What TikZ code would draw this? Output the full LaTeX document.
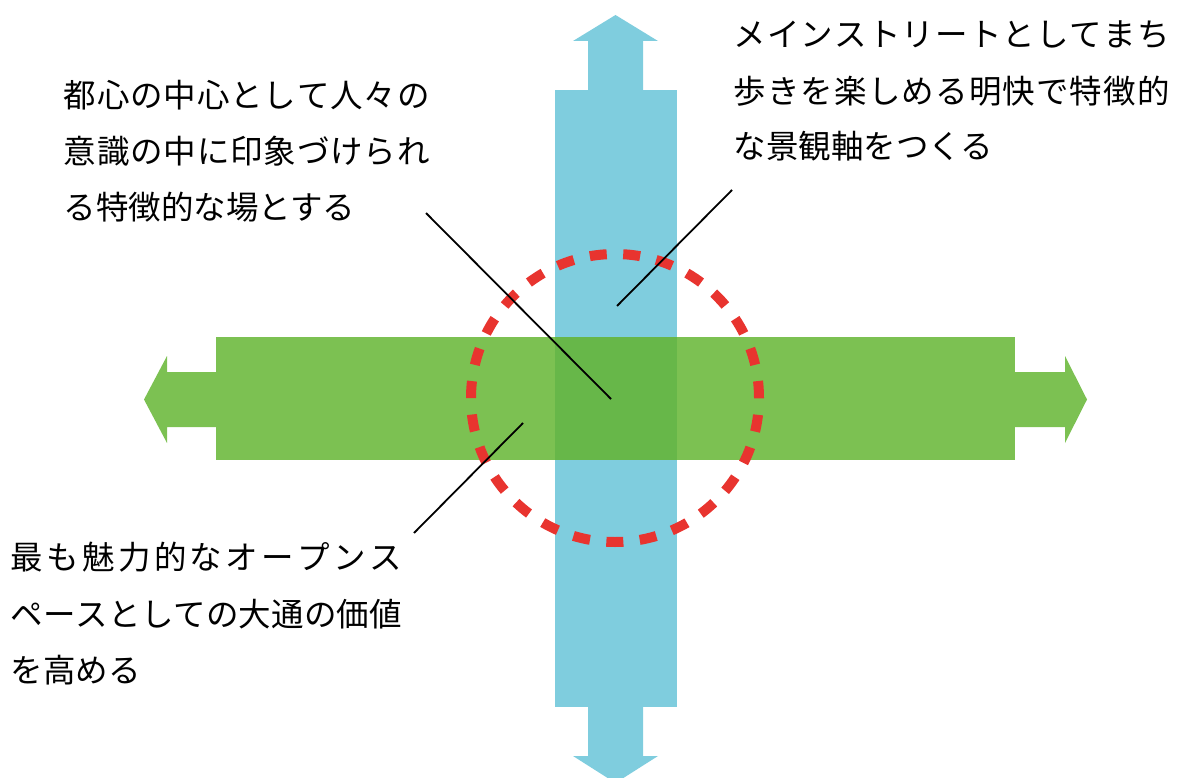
\documentclass[tikz,border=0pt]{standalone}
\usepackage{fontspec}
\newfontfamily\jp{Noto Sans CJK JP}
\definecolor{blueax}{HTML}{7FCDDE}
\definecolor{greenax}{HTML}{7CC152}
\definecolor{overlapax}{HTML}{67B749}
\definecolor{ringred}{HTML}{E8342F}
\makeatletter
\newcommand\jspread[2]{\hbox to #1{\@tfor\js@c:=#2\do{\js@c\hfil}\unskip}}
\makeatother
\begin{document}
\begin{tikzpicture}[x=1pt,y=-1pt,
  lbl/.style={anchor=base west, inner sep=0pt, font=\jp\fontsize{32.5}{32.5}\selectfont},
  leader/.style={draw=black, line width=1.8pt},
  ring/.style={draw=ringred, line width=10pt, dash pattern=on 17pt off 16.5pt}]
\useasboundingbox (0,0) rectangle (1180,778);
\begin{scope}
\clip (0,0) rectangle (1180,778);
% vertical blue axis
\fill[blueax] (555,90) rectangle (677,707);
\fill[blueax] (588,90) -- (588,41) -- (573,41) -- (615.5,15) -- (658,41) -- (643,41) -- (643,90) -- cycle;
\fill[blueax] (588,707) -- (588,756) -- (573,756) -- (615.5,783) -- (658,756) -- (643,756) -- (643,707) -- cycle;
% horizontal green axis
\fill[greenax] (216,337) rectangle (1015,460);
\fill[greenax] (216,372) -- (167,372) -- (167,356) -- (144,399.5) -- (167,443) -- (167,427) -- (216,427) -- cycle;
\fill[greenax] (1015,372) -- (1065,372) -- (1065,356) -- (1087,399.5) -- (1065,443) -- (1065,427) -- (1015,427) -- cycle;
% overlap
\fill[overlapax] (555,337) rectangle (677,460);
\end{scope}
% ring
\coordinate (c) at (615,398);
\draw[ring] (c) circle (144pt);
% leader lines
\coordinate (l1a) at (426,213);
\coordinate (l1b) at (611,399);
\coordinate (l2a) at (732,190);
\coordinate (l2b) at (617,306);
\coordinate (l3a) at (523,423);
\coordinate (l3b) at (414,533);
\draw[leader] (l1a) -- (l1b);
\draw[leader] (l2a) -- (l2b);
\draw[leader] (l3a) -- (l3b);
% texts
\node[lbl] (t1a) at (63.5,108) {\jspread{366pt}{都心の中心として人々の}};
\node[lbl] (t1b) at (63.5,164) {\jspread{366pt}{意識の中に印象づけられ}};
\node[lbl] (t1c) at (63.5,219) {る特徴的な場とする};
\node[lbl] (t2a) at (733.5,47) {\jspread{436pt}{メインストリートとしてまち}};
\node[lbl] (t2b) at (733.5,104) {\jspread{436pt}{歩きを楽しめる明快で特徴的}};
\node[lbl] (t2c) at (733.5,159) {な景観軸をつくる};
\node[lbl] (t3a) at (10.5,569) {\jspread{391pt}{最も魅力的なオープンス}};
\node[lbl] (t3b) at (10.5,626) {\jspread{391pt}{ペースとしての大通の価値}};
\node[lbl] (t3c) at (10.5,682) {を高める};
\end{tikzpicture}
\end{document}
